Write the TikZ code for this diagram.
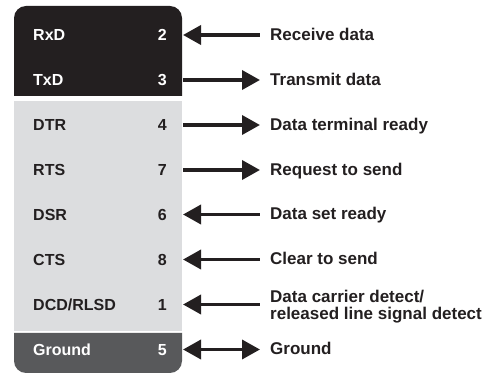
\documentclass[tikz,border=0pt]{standalone}
\usepackage{fontspec}
\setmainfont{Liberation Sans}
\usepackage{tikz}
\usetikzlibrary{arrows.meta}
\definecolor{pinblack}{RGB}{35,31,32}
\definecolor{pinlight}{RGB}{220,221,223}
\definecolor{pindark}{RGB}{88,89,91}
\tikzset{
	pinname/.style={anchor=west,inner sep=0pt,text height=11.5pt,text depth=0pt,font=\bfseries\fontsize{16}{19}\selectfont},
	pinnum/.style={anchor=east,inner sep=0pt,text height=11.5pt,text depth=0pt,font=\bfseries\fontsize{16}{19}\selectfont},
	sigtext/.style={anchor=west,inner sep=0pt,text height=12.2pt,text depth=0pt,text=pinblack,font=\bfseries\fontsize{17}{17}\selectfont},
	sigarrow/.style={draw=pinblack,line width=3.6pt,shorten <=16pt,shorten >=10pt,>={Triangle[length=18pt,width=19pt]}},
}
\begin{document}
\begin{tikzpicture}[x=1pt,y=1pt]
	\useasboundingbox (0,0) rectangle (501,375);
	% connector body
	\fill[pinblack] (14,279) -- (14,357) arc (180:90:12) -- (170,369) arc (90:0:12) -- (182,279) -- cycle;
	\fill[pinlight] (14,44) rectangle (182,274);
	\fill[pindark] (14,42) -- (14,14) arc (180:270:12) -- (170,2) arc (270:360:12) -- (182,42) -- cycle;
	
	% pins
	\node[pinname,text=white] (rxd) at (33,340) {RxD};
	\node[pinnum,text=white] (n2) at (167,340) {2};
	\node[pinname,text=white] (txd) at (33,295) {TxD};
	\node[pinnum,text=white] (n3) at (167,295) {3};
	\node[pinname,text=pinblack] (dtr) at (33,250) {DTR};
	\node[pinnum,text=pinblack] (n4) at (167,250) {4};
	\node[pinname,text=pinblack] (rts) at (33,205) {RTS};
	\node[pinnum,text=pinblack] (n7) at (167,205) {7};
	\node[pinname,text=pinblack] (dsr) at (33,160.5) {DSR};
	\node[pinnum,text=pinblack] (n6) at (167,160.5) {6};
	\node[pinname,text=pinblack] (cts) at (33,115.5) {CTS};
	\node[pinnum,text=pinblack] (n8) at (167,115.5) {8};
	\node[pinname,text=pinblack] (dcd) at (33,70.5) {DCD/RLSD};
	\node[pinnum,text=pinblack] (n1) at (167,70.5) {1};
	\node[pinname,text=white] (gnd) at (33,25.5) {Ground};
	\node[pinnum,text=white] (n5) at (167,25.5) {5};
	
	% signal names
	\node[sigtext] (s2) at (270,341) {Receive data};
	\node[sigtext] (s3) at (270,296) {Transmit data};
	\node[sigtext] (s4) at (270,251) {Data terminal ready};
	\node[sigtext] (s7) at (270,206) {Request to send};
	\node[sigtext] (s6) at (270,161.5) {Data set ready};
	\node[sigtext] (s8) at (270,116.5) {Clear to send};
	\node[sigtext,anchor=base west,text height=,text depth=,align=left] (s1) at (270,55.7) {Data carrier detect/\\released line signal detect};
	\node[sigtext] (s5) at (270,26.5) {Ground};
	
	% arrows
	\draw[sigarrow,<-] (n2.east) -- (s2.west |- n2.east);
	\draw[sigarrow,->] (n3.east) -- (s3.west |- n3.east);
	\draw[sigarrow,->] (n4.east) -- (s4.west |- n4.east);
	\draw[sigarrow,->] (n7.east) -- (s7.west |- n7.east);
	\draw[sigarrow,<-] (n6.east) -- (s6.west |- n6.east);
	\draw[sigarrow,<-] (n8.east) -- (s8.west |- n8.east);
	\draw[sigarrow,<-] (n1.east) -- (s1.west |- n1.east);
	\draw[sigarrow,<->] (n5.east) -- (s5.west |- n5.east);
\end{tikzpicture}
\end{document}
